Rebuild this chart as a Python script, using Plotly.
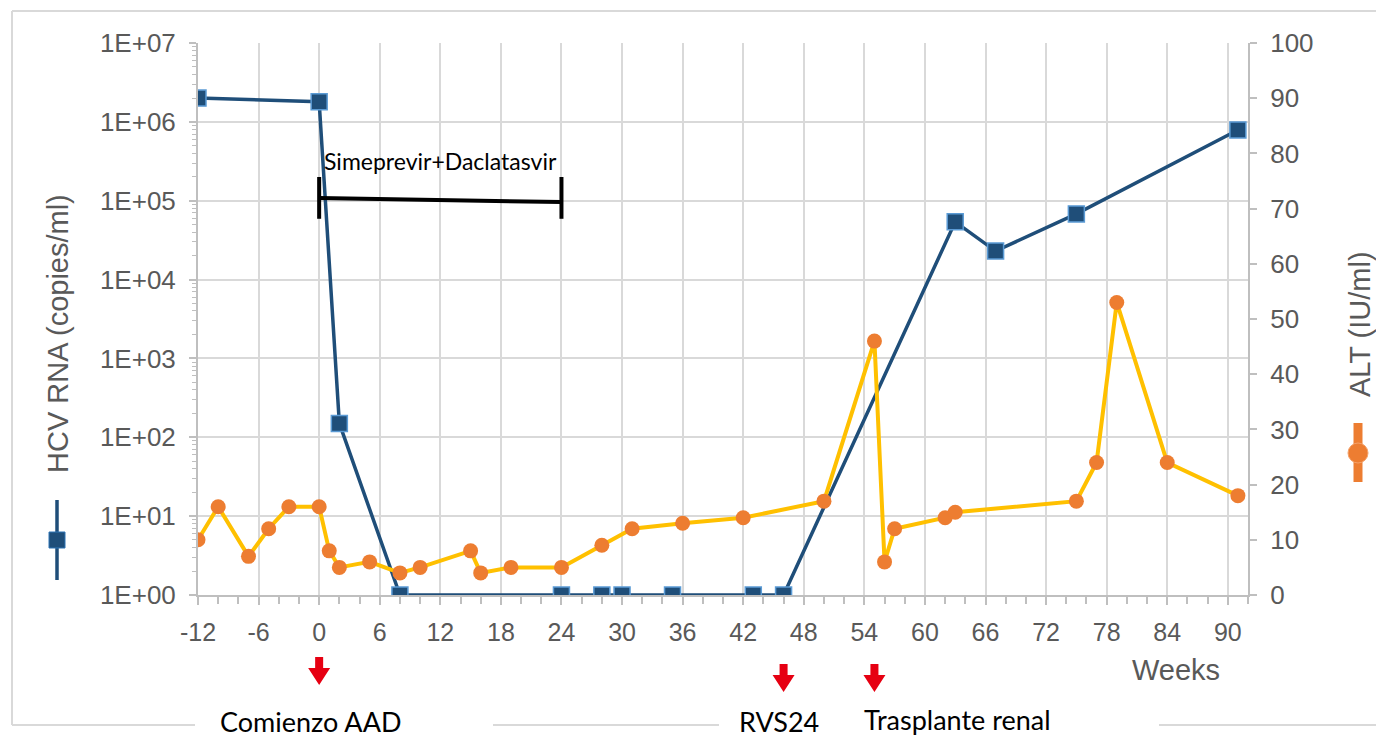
import plotly.graph_objects as go

# ---------------- data ----------------
hcv_weeks = [-12, 0, 2, 8, 24, 28, 30, 35, 43, 46, 63, 67, 75, 91]
hcv_rna = [2.0e6, 1.8e6, 150, 1, 1, 1, 1, 1, 1, 1, 5.4e4, 2.3e4, 6.8e4, 7.9e5]

alt_weeks = [-12, -10, -7, -5, -3, 0, 1, 2, 5, 8, 10, 15, 16, 19, 24, 28, 31, 36,
             42, 50, 55, 56, 57, 62, 63, 75, 77, 79, 84, 91]
alt_values = [10, 16, 7, 12, 16, 16, 8, 5, 6, 4, 5, 8, 4, 5, 5, 9, 12, 13,
              14, 17, 46, 6, 12, 14, 15, 17, 24, 53, 24, 18]

treatment_weeks = [0, 24]
treatment_level = [1.08e5, 0.96e5]
treatment_cap = [2.0e5, 5.9e4]
treatment_label = "Simeprevir+Daclatasvir"

x_tickvals = [-12, -6, 0, 6, 12, 18, 24, 30, 36, 42, 48, 54, 60, 66, 72, 78, 84, 90]
x_ticktext = ["-12", "-6", "0", "6", "12", "18", "24", "30", "36", "42", "48", "54",
              "60", "66", "72", "78", "84", "90"]
log_tickvals = [1, 10, 100, 1e3, 1e4, 1e5, 1e6, 1e7]
log_ticktext = ["1E+00", "1E+01", "1E+02", "1E+03", "1E+04", "1E+05", "1E+06", "1E+07"]

event_weeks = [0, 46, 55]
event_labels = ["Comienzo AAD", "RVS24", "Trasplante renal"]

# ---------------- style ----------------
OFF = 8                      # page body margin
W, H = 1384 - OFF, 738 - OFF
# plot area in page pixels
L, R, T, B = 198, 1248, 43, 595
NAVY = "#1f4e79"
ORANGE = "#ed7d31"
YELLOW = "#ffc000"
GRID = "#d9d9d9"
AXIS = "#bfbfbf"
TXT = "#595959"
RED = "#e60012"
ARIAL = "Liberation Sans, Arial, sans-serif"
TICKFONT = dict(family=ARIAL, size=26, color=TXT)
CAL = "Lato, Open Sans, sans-serif"


def fx(p):
    return (p - L) / (R - L)


def fy(p):
    return (B - p) / (B - T)


fig = go.Figure()

fig.add_trace(go.Scatter(
    x=hcv_weeks, y=hcv_rna, mode="lines+markers", yaxis="y",
    line=dict(color=NAVY, width=3.5),
    marker=dict(symbol="square", size=16, color=NAVY, line=dict(color="#5b9bd5", width=1.5)),
    showlegend=False, hoverinfo="x+y"))

# treatment bar
bx = [treatment_weeks[0], treatment_weeks[1], None,
      treatment_weeks[0], treatment_weeks[0], None,
      treatment_weeks[1], treatment_weeks[1]]
by = [treatment_level[0], treatment_level[1], None,
      treatment_cap[0], treatment_cap[1], None,
      treatment_cap[0], treatment_cap[1]]
fig.add_trace(go.Scatter(x=bx, y=by, mode="lines", yaxis="y",
                         line=dict(color="black", width=4), showlegend=False,
                         hoverinfo="skip"))

fig.add_trace(go.Scatter(
    x=alt_weeks, y=alt_values, mode="lines+markers", yaxis="y2",
    line=dict(color=YELLOW, width=4),
    marker=dict(symbol="circle", size=15, color=ORANGE, line=dict(width=0)),
    showlegend=False, hoverinfo="x+y"))

minor_vals = [m * 10 ** d for d in range(7) for m in range(2, 10)]

fig.update_layout(
    width=W, height=H,
    margin=dict(l=L - OFF, r=1384 - R, t=T - OFF, b=738 - B, autoexpand=False),
    paper_bgcolor="white", plot_bgcolor="white",
    xaxis=dict(range=[-12, 92], tickmode="array", tickvals=x_tickvals, ticktext=x_ticktext,
               showgrid=True, gridcolor=GRID, gridwidth=2,
               showline=True, linecolor=AXIS, linewidth=2,
               ticks="outside", ticklen=8, tickcolor=AXIS, tickwidth=2,
               minor=dict(tickmode="linear", tick0=-12, dtick=2, ticks="outside", ticklen=7,
                          tickcolor=AXIS, tickwidth=1.5, showgrid=False),
               zeroline=False, tickfont=dict(TICKFONT, size=25), ticklabelstandoff=6),
    yaxis=dict(type="log", range=[0, 7], tickmode="array",
               tickvals=log_tickvals, ticktext=log_ticktext,
               showgrid=True, gridcolor=GRID, gridwidth=2,
               showline=True, linecolor=AXIS, linewidth=2,
               ticks="outside", ticklen=7, tickcolor=AXIS, tickwidth=2,
               minor=dict(tickmode="array", tickvals=minor_vals, ticks="outside",
                          ticklen=4, tickcolor=AXIS, tickwidth=1, showgrid=False),
               zeroline=False, tickfont=TICKFONT, ticklabelstandoff=8),
    yaxis2=dict(overlaying="y", side="right", range=[0, 100], tickmode="linear",
                tick0=0, dtick=10, showgrid=False,
                showline=True, linecolor=AXIS, linewidth=2,
                ticks="outside", ticklen=7, tickcolor=AXIS, tickwidth=2,
                zeroline=False, tickfont=TICKFONT, ticklabelstandoff=8),
)

ann = []
# axis titles
ann.append(dict(x=fx(58), y=fy(334), xref="paper", yref="paper", text="HCV RNA (copies/ml)",
                textangle=-90, showarrow=False, xanchor="center", yanchor="middle",
                font=dict(family=ARIAL, size=29, color=TXT)))
ann.append(dict(x=fx(1360), y=fy(324), xref="paper", yref="paper", text="ALT (IU/ml)",
                textangle=-90, showarrow=False, xanchor="center", yanchor="middle",
                font=dict(family=ARIAL, size=29, color=TXT)))
ann.append(dict(x=fx(1176), y=fy(670), xref="paper", yref="paper", text="Weeks",
                showarrow=False, xanchor="center", yanchor="middle",
                font=dict(family=ARIAL, size=29, color=TXT)))
# treatment label
ann.append(dict(x=(treatment_weeks[0] + treatment_weeks[1]) / 2, y=fy(161), xref="x", yref="paper",
                text=treatment_label, showarrow=False, xanchor="center", yanchor="middle",
                font=dict(family=CAL, size=23, color="black")))
# event labels
label_px = [(310, 721), (779, 721), (957, 719)]
for (lx, ly), lab in zip(label_px, event_labels):
    ann.append(dict(x=fx(lx), y=fy(ly), xref="paper", yref="paper", text=lab,
                    showarrow=False, xanchor="center", yanchor="middle",
                    font=dict(family=CAL, size=27, color="black")))
fig.update_layout(annotations=ann)

shapes = []
# outer frame (partially hidden behind labels)
frame = dict(type="line", xref="paper", yref="paper", line=dict(color=GRID, width=2))
shapes.append(dict(frame, x0=fx(12), x1=fx(12), y0=fy(11), y1=fy(725)))
shapes.append(dict(frame, x0=fx(12), x1=fx(1390), y0=fy(11), y1=fy(11)))
for a, b in [(12, 195), (493, 719), (1159, 1390)]:
    shapes.append(dict(frame, x0=fx(a), x1=fx(b), y0=fy(725), y1=fy(725)))

# axis title glyphs
shapes.append(dict(type="line", xref="paper", yref="paper", x0=fx(57), x1=fx(57),
                   y0=fy(500), y1=fy(580), line=dict(color=NAVY, width=3.5)))
shapes.append(dict(type="rect", xref="paper", yref="paper", x0=fx(49), x1=fx(65),
                   y0=fy(532), y1=fy(548), fillcolor=NAVY, line=dict(color="#2e75b6", width=1)))
shapes.append(dict(type="line", xref="paper", yref="paper", x0=fx(1358), x1=fx(1358),
                   y0=fy(423), y1=fy(482), line=dict(color=ORANGE, width=9)))
shapes.append(dict(type="circle", xref="paper", yref="paper", x0=fx(1348), x1=fx(1368),
                   y0=fy(443), y1=fy(463), fillcolor=ORANGE, line=dict(color="#f4a26b", width=1)))

# red event arrows
arrow_path = "M0,0 L11,17 L4,17 L4,28 L-4,28 L-4,17 L-11,17 Z"
arrow_tip = [685, 692, 692]
for wk, tip in zip(event_weeks, arrow_tip):
    shapes.append(dict(type="path", xref="x", yref="paper", xsizemode="pixel", ysizemode="pixel",
                       xanchor=wk, yanchor=fy(tip), path=arrow_path,
                       fillcolor=RED, line=dict(width=0)))

fig.update_layout(shapes=shapes)

fig.write_html("out.html")
